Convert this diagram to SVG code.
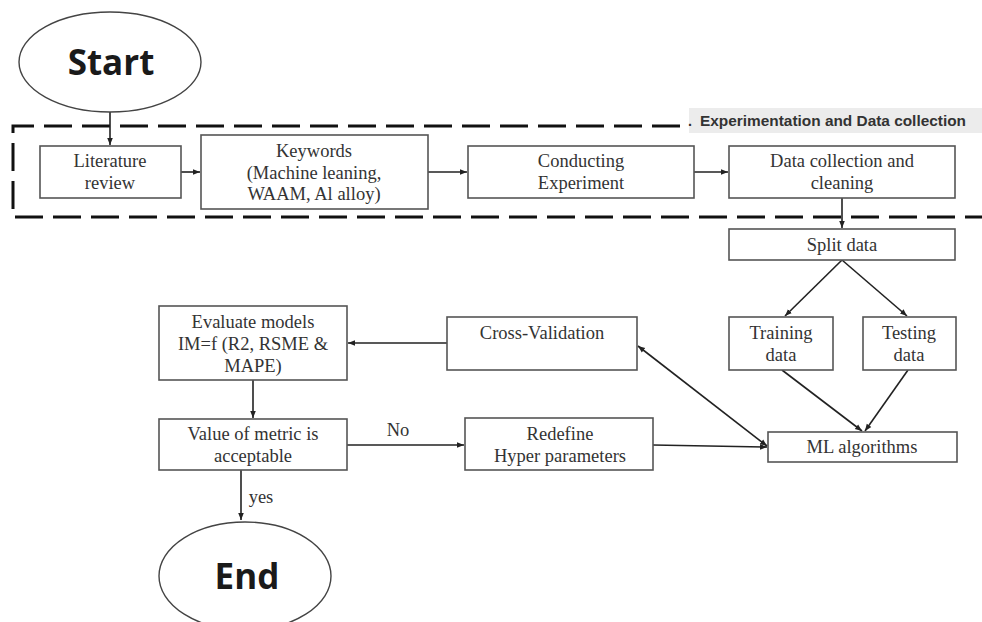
<svg xmlns="http://www.w3.org/2000/svg" width="982" height="622" viewBox="0 0 982 622">
<defs>
<style>
.box{fill:#fff;stroke:#555;stroke-width:1.6}
.ell{fill:#fff;stroke:#444;stroke-width:1.4}
.t{font-family:"Liberation Serif","Times New Roman",serif;font-size:18.5px;fill:#333;text-anchor:middle}
.big{font-family:"Open Sans","Liberation Sans",sans-serif;font-weight:bold;font-size:35px;fill:#1a1a1a;text-anchor:middle}
.lbl{font-family:"Liberation Sans",Arial,sans-serif;font-weight:bold;font-size:14.5px;fill:#333}
.c{fill:none;stroke:#222;stroke-width:1.6}
.dash{fill:none;stroke:#111;stroke-width:3;stroke-dasharray:28 10}
</style>
<marker id="ah" viewBox="0 0 10 10" refX="10" refY="5" markerWidth="7" markerHeight="7" orient="auto-start-reverse" markerUnits="userSpaceOnUse">
<path d="M0,1 L10,5 L0,9 z" fill="#222"/>
</marker>
</defs>
<rect width="982" height="622" fill="#fff"/>

<g id="group-frame">
<rect x="689" y="108" width="293" height="25" fill="#ececec"/>
<text class="lbl" x="688" y="126">.</text>
<text class="lbl" x="700" y="126" textLength="266" lengthAdjust="spacingAndGlyphs">Experimentation and Data collection</text>
<path class="dash" d="M680,126 H13 V217 H982"/>
</g>

<g id="connectors">
<line class="c" x1="110" y1="112" x2="110" y2="145" marker-end="url(#ah)"/>
<line class="c" x1="181" y1="172" x2="200" y2="172" marker-end="url(#ah)"/>
<line class="c" x1="428" y1="172" x2="467" y2="172" marker-end="url(#ah)"/>
<line class="c" x1="694" y1="172" x2="728" y2="172" marker-end="url(#ah)"/>
<line class="c" x1="842" y1="198" x2="842" y2="228" marker-end="url(#ah)"/>
<line class="c" x1="842" y1="260" x2="785" y2="316" marker-end="url(#ah)"/>
<line class="c" x1="842" y1="260" x2="907" y2="316" marker-end="url(#ah)"/>
<line class="c" x1="782" y1="370" x2="862" y2="431" marker-end="url(#ah)"/>
<line class="c" x1="908" y1="370" x2="865" y2="431" marker-end="url(#ah)"/>
<line class="c" x1="767" y1="446" x2="638" y2="346" marker-start="url(#ah)" marker-end="url(#ah)"/>
<line class="c" x1="653" y1="445" x2="767" y2="447" marker-end="url(#ah)"/>
<line class="c" x1="447" y1="343" x2="348" y2="343" marker-end="url(#ah)"/>
<line class="c" x1="253" y1="380" x2="253" y2="418" marker-end="url(#ah)"/>
<line class="c" x1="347" y1="445" x2="464" y2="445" marker-end="url(#ah)"/>
<line class="c" x1="241" y1="470" x2="241" y2="520" marker-end="url(#ah)"/>
<text class="t" x="398" y="436">No</text>
<text class="t" x="261" y="503">yes</text>
</g>

<g id="node-start">
<ellipse class="ell" cx="110" cy="62" rx="91" ry="50"/>
<text class="big" x="111" y="75">Start</text>
</g>

<g id="node-literature">
<rect class="box" x="40" y="146" width="141" height="52"/>
<text class="t" x="110" y="167">Literature</text>
<text class="t" x="110" y="189">review</text>
</g>

<g id="node-keywords">
<rect class="box" x="201" y="135" width="227" height="74"/>
<text class="t" x="314" y="157">Keywords</text>
<text class="t" x="314" y="179">(Machine leaning,</text>
<text class="t" x="314" y="200">WAAM, Al alloy)</text>
</g>

<g id="node-conducting">
<rect class="box" x="468" y="146" width="226" height="52"/>
<text class="t" x="581" y="167">Conducting</text>
<text class="t" x="581" y="189">Experiment</text>
</g>

<g id="node-datacollection">
<rect class="box" x="729" y="146" width="226" height="52"/>
<text class="t" x="842" y="167">Data collection  and</text>
<text class="t" x="842" y="189">cleaning</text>
</g>

<g id="node-split">
<rect class="box" x="729" y="229" width="226" height="31"/>
<text class="t" x="842" y="251">Split data</text>
</g>

<g id="node-training">
<rect class="box" x="729" y="317" width="104" height="53"/>
<text class="t" x="781" y="339">Training</text>
<text class="t" x="781" y="361">data</text>
</g>

<g id="node-testing">
<rect class="box" x="863" y="317" width="93" height="53"/>
<text class="t" x="909" y="339">Testing</text>
<text class="t" x="909" y="361">data</text>
</g>

<g id="node-ml">
<rect class="box" x="768" y="432" width="189" height="30"/>
<text class="t" x="862" y="453">ML algorithms</text>
</g>

<g id="node-cv">
<rect class="box" x="447" y="317" width="190" height="53"/>
<text class="t" x="542" y="339">Cross-Validation</text>
</g>

<g id="node-evaluate">
<rect class="box" x="159" y="306" width="188" height="74"/>
<text class="t" x="253" y="328">Evaluate models</text>
<text class="t" x="253" y="350">IM=f (R2, RSME &amp;</text>
<text class="t" x="253" y="372">MAPE)</text>
</g>

<g id="node-value">
<rect class="box" x="159" y="419" width="188" height="51"/>
<text class="t" x="253" y="440">Value of metric is</text>
<text class="t" x="253" y="462">acceptable</text>
</g>

<g id="node-redefine">
<rect class="box" x="465" y="418" width="188" height="52"/>
<text class="t" x="560" y="440">Redefine</text>
<text class="t" x="560" y="462">Hyper parameters</text>
</g>

<g id="node-end">
<ellipse class="ell" cx="245" cy="576" rx="86" ry="54"/>
<text class="big" x="247" y="589">End</text>
</g>
</svg>
